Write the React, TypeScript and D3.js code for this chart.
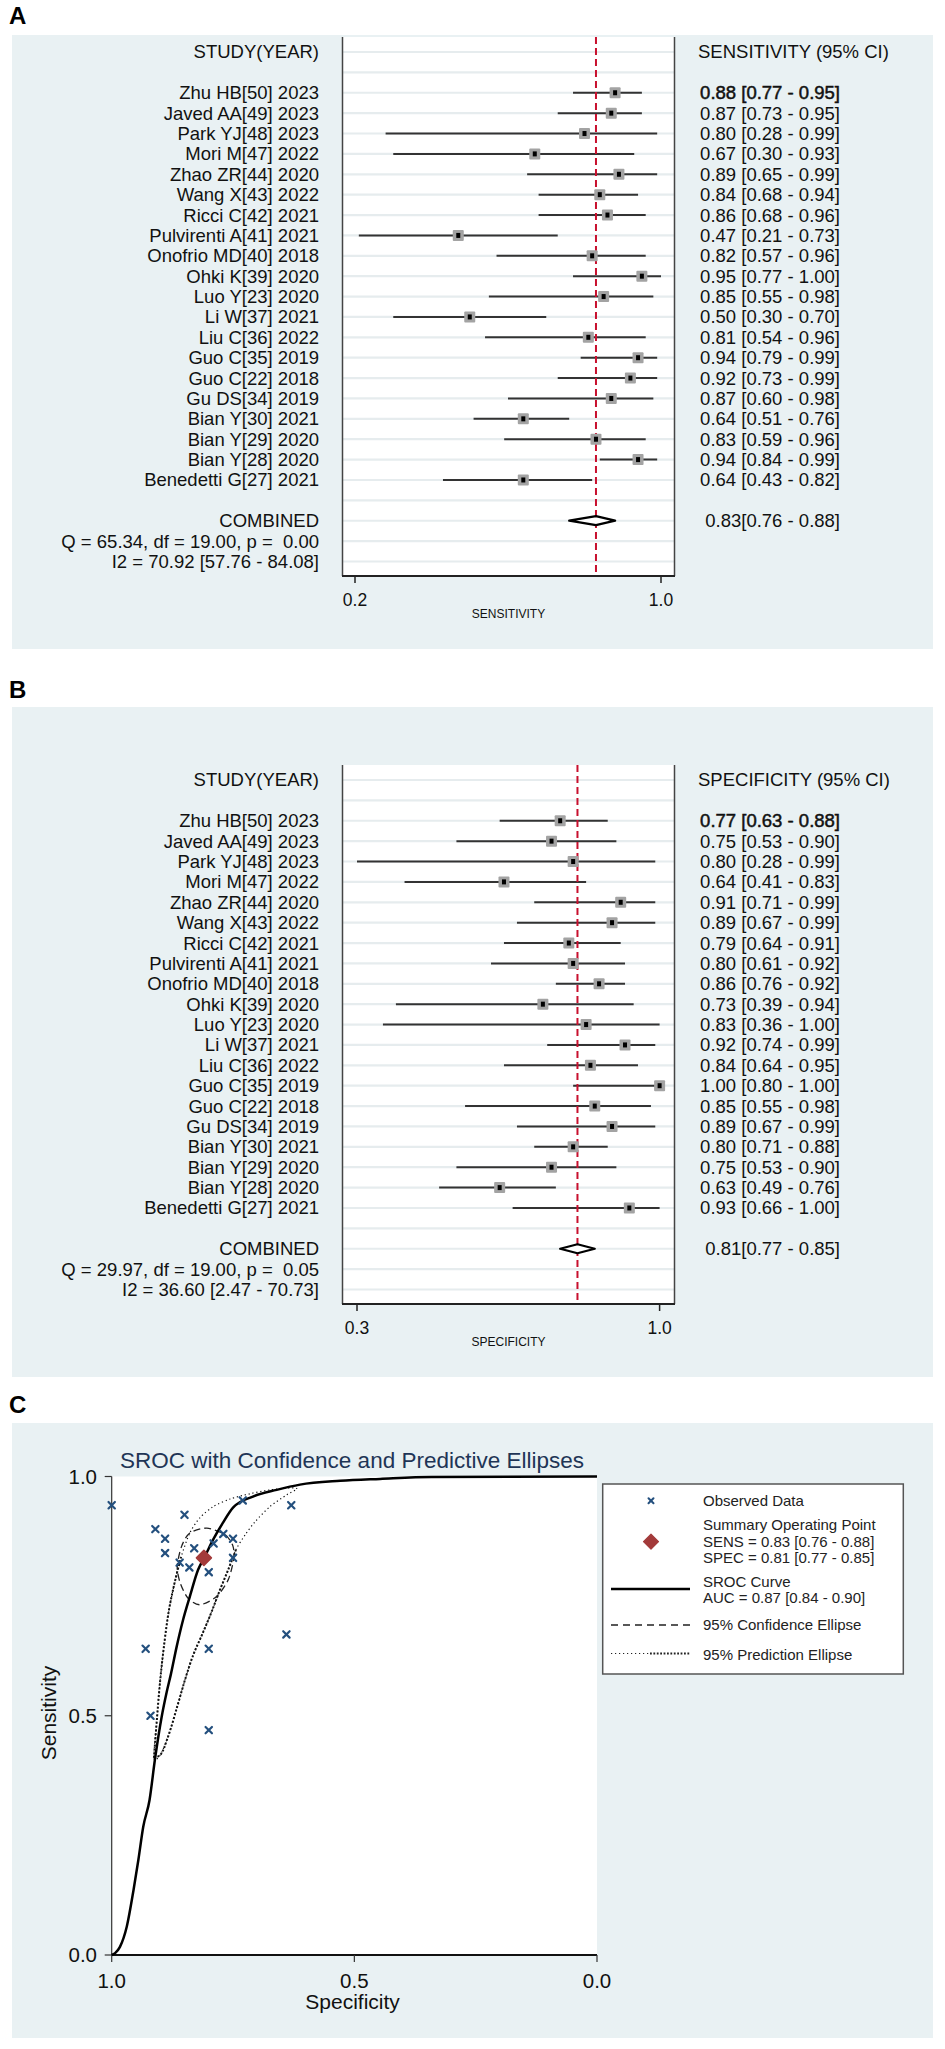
import React from 'react';
import * as d3 from 'd3';

// ---------------- DATA ----------------
const studies = [
  'Zhu HB[50] 2023', 'Javed AA[49] 2023', 'Park YJ[48] 2023', 'Mori M[47] 2022',
  'Zhao ZR[44] 2020', 'Wang X[43] 2022', 'Ricci C[42] 2021', 'Pulvirenti A[41] 2021',
  'Onofrio MD[40] 2018', 'Ohki K[39] 2020', 'Luo Y[23] 2020', 'Li W[37] 2021',
  'Liu C[36] 2022', 'Guo C[35] 2019', 'Guo C[22] 2018', 'Gu DS[34] 2019',
  'Bian Y[30] 2021', 'Bian Y[29] 2020', 'Bian Y[28] 2020', 'Benedetti G[27] 2021',
];

const sensEst = [0.88, 0.87, 0.80, 0.67, 0.89, 0.84, 0.86, 0.47, 0.82, 0.95, 0.85, 0.50, 0.81, 0.94, 0.92, 0.87, 0.64, 0.83, 0.94, 0.64];
const sensLo = [0.77, 0.73, 0.28, 0.30, 0.65, 0.68, 0.68, 0.21, 0.57, 0.77, 0.55, 0.30, 0.54, 0.79, 0.73, 0.60, 0.51, 0.59, 0.84, 0.43];
const sensHi = [0.95, 0.95, 0.99, 0.93, 0.99, 0.94, 0.96, 0.73, 0.96, 1.00, 0.98, 0.70, 0.96, 0.99, 0.99, 0.98, 0.76, 0.96, 0.99, 0.82];

const specEst = [0.77, 0.75, 0.80, 0.64, 0.91, 0.89, 0.79, 0.80, 0.86, 0.73, 0.83, 0.92, 0.84, 1.00, 0.85, 0.89, 0.80, 0.75, 0.63, 0.93];
const specLo = [0.63, 0.53, 0.28, 0.41, 0.71, 0.67, 0.64, 0.61, 0.76, 0.39, 0.36, 0.74, 0.64, 0.80, 0.55, 0.67, 0.71, 0.53, 0.49, 0.66];
const specHi = [0.88, 0.90, 0.99, 0.83, 0.99, 0.99, 0.91, 0.92, 0.92, 0.94, 1.00, 0.99, 0.95, 1.00, 0.98, 0.99, 0.88, 0.90, 0.76, 1.00];

const pooledSens = [0.83, 0.76, 0.88];
const pooledSpec = [0.81, 0.77, 0.85];
const sensStats = ['Q = 65.34, df = 19.00, p =  0.00', 'I2 = 70.92 [57.76 - 84.08]'];
const specStats = ['Q = 29.97, df = 19.00, p =  0.05', 'I2 = 36.60 [2.47 - 70.73]'];
const sensTicks = [0.2, 1.0];
const specTicks = [0.3, 1.0];

const rocTicks = [1.0, 0.5, 0.0];
// SROC curve (specificity, sensitivity)
const srocSpec = [1.0, 0.993, 0.983, 0.969, 0.955, 0.945, 0.935, 0.922, 0.911, 0.897, 0.887, 0.878, 0.866, 0.853, 0.839, 0.822, 0.808, 0.791, 0.771, 0.75, 0.709, 0.66, 0.612, 0.529, 0.447, 0.341, 0.0];
const srocSens = [0.0, 0.004, 0.017, 0.059, 0.136, 0.199, 0.268, 0.324, 0.408, 0.498, 0.548, 0.587, 0.645, 0.7, 0.749, 0.805, 0.833, 0.868, 0.903, 0.935, 0.958, 0.972, 0.983, 0.991, 0.995, 0.999, 1.0];
// 95% confidence ellipse
const confSpec = [0.804, 0.766, 0.75, 0.749, 0.76, 0.784, 0.818, 0.843, 0.859, 0.865, 0.856, 0.839];
const confSens = [0.892, 0.878, 0.854, 0.826, 0.784, 0.749, 0.732, 0.746, 0.778, 0.812, 0.854, 0.882];
// 95% prediction ellipse
const predSpec = [0.913, 0.907, 0.9, 0.892, 0.882, 0.869, 0.857, 0.839, 0.818, 0.791, 0.756, 0.715, 0.674, 0.632, 0.618, 0.639, 0.674, 0.705, 0.725, 0.744, 0.76, 0.777, 0.795, 0.814, 0.832, 0.849, 0.865, 0.884, 0.9];
const predSens = [0.412, 0.491, 0.575, 0.648, 0.721, 0.784, 0.832, 0.882, 0.914, 0.937, 0.953, 0.964, 0.972, 0.976, 0.974, 0.962, 0.937, 0.905, 0.878, 0.847, 0.805, 0.763, 0.715, 0.669, 0.627, 0.575, 0.519, 0.456, 0.418];

const legendLines = {
  observed: 'Observed Data',
  summary: ['Summary Operating Point', 'SENS = 0.83 [0.76 - 0.88]', 'SPEC = 0.81 [0.77 - 0.85]'],
  sroc: ['SROC Curve', 'AUC = 0.87 [0.84 - 0.90]'],
  conf: '95% Confidence Ellipse',
  pred: '95% Prediction Ellipse',
};

// ---------------- STYLE ----------------
const FONT = '"Liberation Sans", Arial, Helvetica, sans-serif';
const BG = '#e9f1f3';
const ROW = 20.38;
const f2 = d3.format('.2f');

type ForestProps = {
  letter: string; letterY: number; bgTop: number; plotTop: number;
  header: string; axisTitle: string;
  est: number[]; lo: number[]; hi: number[]; pooled: number[]; stats: string[];
  domain: [number, number]; range: [number, number]; ticks: number[];
};

function Forest(p: ForestProps) {
  const x = d3.scaleLinear().domain(p.domain).range(p.range);
  const rowY = (i: number) => p.plotTop + 15 + i * ROW;
  const axisY = p.plotTop + 539;
  const plotL = 342, plotR = 675;
  const clampX = (v: number) => x(Math.max(p.domain[0], Math.min(p.domain[1], v)));
  const nRows = 26;
  const cy = rowY(23);
  const diamond = `M${x(p.pooled[1])},${cy} L${x(p.pooled[0])},${cy - 4.5} L${x(p.pooled[2])},${cy} L${x(p.pooled[0])},${cy + 4.5} Z`;
  return (
    <g fontFamily={FONT}>
      <text x={9} y={p.letterY} fontSize={24} fontWeight="bold" fill="#000">{p.letter}</text>
      <rect x={12} y={p.bgTop} width={921} height={axisY + 73 - p.bgTop} fill={BG} />
      <rect x={plotL} y={p.plotTop} width={plotR - plotL} height={axisY - p.plotTop} fill="#fff" />
      {d3.range(nRows).map((i) => (
        <line key={'g' + i} x1={plotL} x2={plotR} y1={rowY(i)} y2={rowY(i)} stroke="#e6ecee" strokeWidth={2.2} />
      ))}
      <line x1={plotL + 0.5} x2={plotL + 0.5} y1={p.plotTop} y2={axisY} stroke="#444" strokeWidth={1.5} />
      <line x1={plotR - 0.5} x2={plotR - 0.5} y1={p.plotTop} y2={axisY} stroke="#444" strokeWidth={1.5} />
      <line x1={plotL} x2={plotR} y1={axisY} y2={axisY} stroke="#222" strokeWidth={1.8} />
      {p.ticks.map((t) => (
        <g key={'t' + t}>
          <line x1={x(t)} x2={x(t)} y1={axisY} y2={axisY + 7} stroke="#222" strokeWidth={1.5} />
          <text x={x(t)} y={axisY + 24} dy="0.35em" textAnchor="middle" fontSize={17.5} fill="#111">{t.toFixed(1)}</text>
        </g>
      ))}
      <text x={(plotL + plotR) / 2} y={axisY + 38} dy="0.35em" textAnchor="middle" fontSize={12} fill="#111">{p.axisTitle}</text>
      {/* headers */}
      <text x={319} y={rowY(0)} dy="0.35em" textAnchor="end" fontSize={18.5} fill="#111">STUDY(YEAR)</text>
      <text x={698} y={rowY(0)} dy="0.35em" textAnchor="start" fontSize={18.5} fill="#111">{p.header}</text>
      {/* CI lines */}
      {studies.map((s, i) => (
        <line key={'ci' + i} x1={clampX(p.lo[i])} x2={clampX(p.hi[i])} y1={rowY(i + 2)} y2={rowY(i + 2)} stroke="#333" strokeWidth={2} />
      ))}
      {/* pooled line */}
      <line x1={x(p.pooled[0])} x2={x(p.pooled[0])} y1={p.plotTop} y2={axisY} stroke="#c8102e" strokeWidth={2} strokeDasharray="7,4" />
      {studies.map((s, i) => {
        const cx = x(p.est[i]);
        const yy = rowY(i + 2);
        return (
          <g key={'m' + i}>
            <rect x={cx - 5.5} y={yy - 5.5} width={11} height={11} fill="#a3a3a3" rx={1} />
            <rect x={cx - 2} y={yy - 2.5} width={4} height={5} fill="#000" />
          </g>
        );
      })}
      <path d={diamond} fill="#fff" stroke="#000" strokeWidth={2.3} strokeLinejoin="round" />
      {/* labels */}
      {studies.map((s, i) => (
        <text key={'l' + i} x={319} y={rowY(i + 2)} dy="0.35em" textAnchor="end" fontSize={18.5} fill="#111">{s}</text>
      ))}
      {studies.map((s, i) => (
        <text key={'v' + i} x={840} y={rowY(i + 2)} dy="0.35em" textAnchor="end" fontSize={18.5} fill="#111"
          stroke={i === 0 ? '#111' : 'none'} strokeWidth={i === 0 ? 0.5 : 0}>
          {`${f2(p.est[i])} [${f2(p.lo[i])} - ${f2(p.hi[i])}]`}
        </text>
      ))}
      <text x={319} y={rowY(23)} dy="0.35em" textAnchor="end" fontSize={18.5} fill="#111">COMBINED</text>
      <text x={840} y={rowY(23)} dy="0.35em" textAnchor="end" fontSize={18.5} fill="#111">
        {`${f2(p.pooled[0])}[${f2(p.pooled[1])} - ${f2(p.pooled[2])}]`}
      </text>
      {p.stats.map((s, k) => (
        <text key={'s' + k} x={319} y={rowY(24 + k)} dy="0.35em" textAnchor="end" fontSize={18.5} fill="#111" style={{ whiteSpace: 'pre' }}>{s}</text>
      ))}
    </g>
  );
}

function XMark({ cx, cy, r, w }: { cx: number; cy: number; r: number; w: number }) {
  return (
    <g stroke="#24507e" strokeWidth={w} strokeLinecap="round">
      <line x1={cx - r} y1={cy - r} x2={cx + r} y2={cy + r} />
      <line x1={cx - r} y1={cy + r} x2={cx + r} y2={cy - r} />
    </g>
  );
}

function Sroc() {
  const L = 111.7, R = 597, T = 1476.5, B = 1955;
  const x = d3.scaleLinear().domain([1, 0]).range([L, R]);
  const y = d3.scaleLinear().domain([0, 1]).range([B, T]);
  const curve = d3.line<number>().x((i) => x(srocSpec[i])).y((i) => y(srocSens[i])).curve(d3.curveMonotoneX)(d3.range(srocSpec.length)) || '';
  const conf = d3.line<number>().x((i) => x(confSpec[i])).y((i) => y(confSens[i])).curve(d3.curveCardinalClosed.tension(0.2))(d3.range(confSpec.length)) || '';
  const predFull = d3.line<number>().x((i) => x(predSpec[i])).y((i) => y(predSens[i])).curve(d3.curveCardinalClosed.tension(0.2))(d3.range(predSpec.length)) || '';
  const seg = (idx: number[]) => d3.line<number>().x((i) => x(predSpec[i])).y((i) => y(predSens[i])).curve(d3.curveCatmullRom)(idx) || '';
  const heavyLeft = seg(d3.range(0, 7));
  const heavyRight = seg([...d3.range(19, predSpec.length), 0]);
  const sumX = x(pooledSpec[0]), sumY = y(pooledSens[0]);
  const dia = (cx: number, cy: number, r: number) => `M${cx},${cy - r} L${cx + r},${cy} L${cx},${cy + r} L${cx - r},${cy} Z`;
  const lx = 703;
  return (
    <g fontFamily={FONT}>
      <text x={9} y={1413} fontSize={24} fontWeight="bold" fill="#000">C</text>
      <rect x={12} y={1423} width={921} height={615} fill={BG} />
      <rect x={L} y={T} width={R - L} height={B - T} fill="#fff" />
      <text x={352} y={1460.5} dy="0.35em" textAnchor="middle" fontSize={22.5} fill="#1f3556">SROC with Confidence and Predictive Ellipses</text>
      {/* axes */}
      <line x1={L} x2={L} y1={T} y2={B} stroke="#333" strokeWidth={1.2} />
      <line x1={L} x2={R} y1={B} y2={B} stroke="#111" strokeWidth={2} />
      {rocTicks.map((t) => (
        <g key={'yt' + t}>
          <line x1={L - 7} x2={L} y1={y(t)} y2={y(t)} stroke="#333" strokeWidth={1.2} />
          <text x={97} y={y(t)} dy="0.35em" textAnchor="end" fontSize={20.5} fill="#111">{t.toFixed(1)}</text>
          <line x1={x(t)} x2={x(t)} y1={B} y2={B + 7} stroke="#333" strokeWidth={1.2} />
          <text x={x(t)} y={1981} dy="0.35em" textAnchor="middle" fontSize={20.5} fill="#111">{t.toFixed(1)}</text>
        </g>
      ))}
      <text x={352.6} y={2001.5} dy="0.35em" textAnchor="middle" fontSize={21} fill="#111">Specificity</text>
      <text transform="translate(49,1713) rotate(-90)" dy="0.35em" textAnchor="middle" fontSize={21} fill="#111">Sensitivity</text>
      {/* ellipses */}
      <path d={predFull} fill="none" stroke="#111" strokeWidth={1.2} strokeDasharray="1.2,2.8" />
      <path d={heavyLeft} fill="none" stroke="#111" strokeWidth={2} strokeDasharray="2,1.8" />
      <path d={heavyRight} fill="none" stroke="#111" strokeWidth={2} strokeDasharray="2,1.8" />
      <path d={conf} fill="none" stroke="#222" strokeWidth={1.3} strokeDasharray="7,4" />
      <path d={curve} fill="none" stroke="#000" strokeWidth={2.5} />
      {specEst.map((s, i) => (
        <XMark key={'o' + i} cx={x(s)} cy={y(sensEst[i])} r={3.2} w={2.2} />
      ))}
      <path d={dia(sumX, sumY, 7.5)} fill="#a33a3a" stroke="#a33a3a" strokeWidth={1.5} strokeLinejoin="round" />
      {/* legend */}
      <rect x={602.7} y={1484} width={300.6} height={190} fill="#fff" stroke="#555" strokeWidth={1.5} />
      <XMark cx={651} cy={1500.7} r={2.5} w={2} />
      <path d={dia(651, 1541.7, 7.5)} fill="#a33a3a" stroke="#a33a3a" strokeWidth={1.2} strokeLinejoin="round" />
      <line x1={611} x2={690} y1={1589} y2={1589} stroke="#000" strokeWidth={2.5} />
      <line x1={611} x2={690} y1={1625} y2={1625} stroke="#222" strokeWidth={1.3} strokeDasharray="7,5" />
      <line x1={611} x2={650} y1={1653.5} y2={1653.5} stroke="#222" strokeWidth={1.2} strokeDasharray="1.2,2.8" />
      <line x1={650} x2={690} y1={1653.5} y2={1653.5} stroke="#222" strokeWidth={1.8} strokeDasharray="1.8,1.6" />
      <g fontSize={15} fill="#222">
        <text x={lx} y={1500.7} dy="0.35em">{legendLines.observed}</text>
        {legendLines.summary.map((s, k) => (
          <text key={'ls' + k} x={lx} y={1525 + k * 16.3} dy="0.35em">{s}</text>
        ))}
        {legendLines.sroc.map((s, k) => (
          <text key={'lr' + k} x={lx} y={1581.7 + k * 16} dy="0.35em">{s}</text>
        ))}
        <text x={lx} y={1625} dy="0.35em">{legendLines.conf}</text>
        <text x={lx} y={1654.3} dy="0.35em">{legendLines.pred}</text>
      </g>
    </g>
  );
}

export default function App() {
  return (
    <svg width={945} height={2049} viewBox="0 0 945 2049" style={{ position: 'absolute', left: 0, top: 0, background: '#fff' }}>
      <rect x={0} y={0} width={945} height={2049} fill="#fff" />
      <Forest letter="A" letterY={24} bgTop={35} plotTop={37} header="SENSITIVITY (95% CI)" axisTitle="SENSITIVITY"
        est={sensEst} lo={sensLo} hi={sensHi} pooled={pooledSens} stats={sensStats}
        domain={[0.2, 1.0]} range={[355, 661]} ticks={sensTicks} />
      <Forest letter="B" letterY={698} bgTop={707} plotTop={765} header="SPECIFICITY (95% CI)" axisTitle="SPECIFICITY"
        est={specEst} lo={specLo} hi={specHi} pooled={pooledSpec} stats={specStats}
        domain={[0.3, 1.0]} range={[357, 659.6]} ticks={specTicks} />
      <Sroc />
    </svg>
  );
}
